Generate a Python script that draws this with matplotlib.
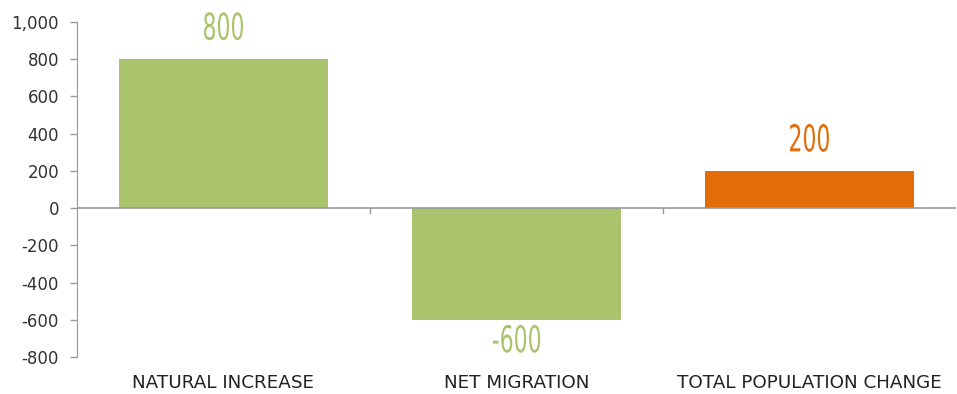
import numpy as np
import matplotlib.pyplot as plt
from matplotlib.ticker import FuncFormatter
from matplotlib.textpath import TextPath
from matplotlib.patches import PathPatch
from matplotlib.font_manager import FontProperties
from matplotlib.transforms import Affine2D

categories = ['NATURAL INCREASE', 'NET MIGRATION', 'TOTAL POPULATION CHANGE']
values = [800, -600, 200]
colors = ['#A9C46C', '#A9C46C', '#E36C0A']
y_ticks = [-800, -600, -400, -200, 0, 200, 400, 600, 800, 1000]

DPI = 100
fig = plt.figure(figsize=(9.57, 3.94), dpi=DPI)
ax = fig.add_axes([77 / 957, 1 - 357 / 394, 879 / 957, 335 / 394])

x = np.arange(len(categories))
ax.bar(x, values, width=0.71, color=colors, zorder=2)

ax.set_xlim(-0.5, len(categories) - 0.5)
ax.set_ylim(-800, 1000)
ax.set_yticks(y_ticks)
ax.yaxis.set_major_formatter(FuncFormatter(lambda v, p: f'{int(v):,}'))
ax.tick_params(axis='y', labelsize=12, colors='#999999', labelcolor='#333333',
               length=5, width=1, pad=8)

for s in ['top', 'right', 'bottom']:
    ax.spines[s].set_visible(False)
ax.spines['left'].set_color('#999999')
ax.axhline(0, color='#999999', linewidth=1.2, zorder=3)

# category dividers on the zero line
ax.set_xticks([])
for b in np.arange(0.5, len(categories) - 0.5, 1):
    ax.plot([b, b], [0, -25], color='#999999', linewidth=1, zorder=3)

for i, cat in enumerate(categories):
    ax.annotate(cat, (i, -800), xytext=(0, -12), textcoords='offset points',
                ha='center', va='top', fontsize=13.2, color='#222222')


def tall_label(ax, xv, yv, text, color, gap_px, height_px=28, squeeze=0.66):
    """Draw a narrow, tall number label as a path, above (gap>0) or below the point."""
    fp = FontProperties(family='DejaVu Sans', stretch='condensed')
    tp = TextPath((0, 0), text, size=100, prop=fp)
    ext = tp.get_extents()
    sy = height_px / ext.height
    sx = sy * squeeze
    px, py = ax.transData.transform((xv, yv))
    if gap_px > 0:
        base = py + gap_px
    else:
        base = py + gap_px - height_px
    tr = (Affine2D().translate(-(ext.x0 + ext.width / 2), -ext.y0)
          .scale(sx, sy).translate(px, base))
    patch = PathPatch(tp, transform=tr, facecolor=color, edgecolor='none', zorder=4)
    fig.add_artist(patch)


for i, v in enumerate(values):
    gap = 19 if v > 0 else -5
    tall_label(ax, i, v, str(v), colors[i], gap)

fig.savefig('out.png', dpi=DPI)
